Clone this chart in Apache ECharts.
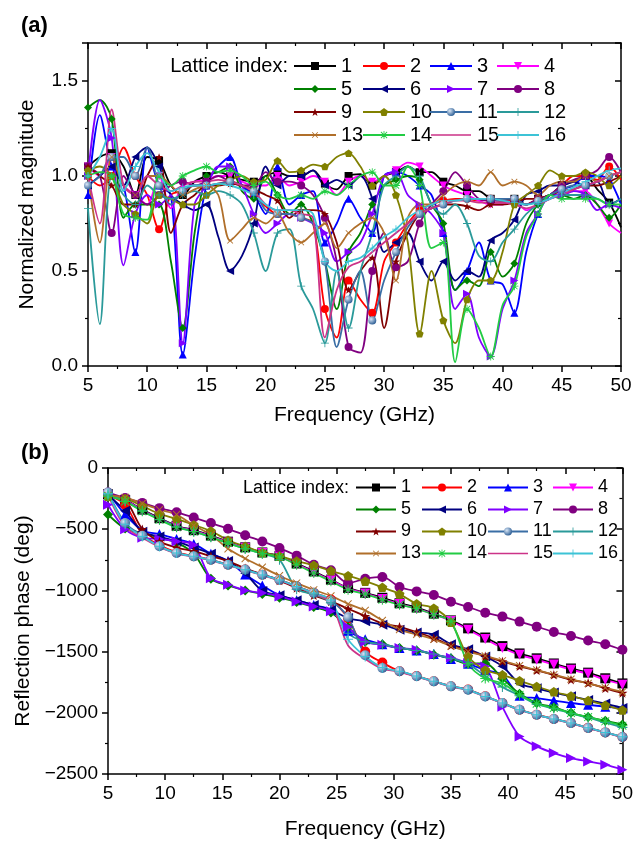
<!DOCTYPE html>
<html>
<head>
<meta charset="utf-8">
<script src="https://cdn.jsdelivr.net/npm/echarts@6/dist/echarts.min.js"></script>
<style>
html, body { margin: 0; padding: 0; background: #fff; }
#chart { width: 636px; height: 844px; }
</style>
</head>
<body>
<div id="chart"></div>
<script>
// frequency grids (GHz)
var freqA = [5,6,7,8,9,10,11,12,13,14,15,16,17,18,19,20,21,22,23,24,25,26,27,28,29,30,31,32,33,34,35,36,37,38,39,40,41,42,43,44,45,46,47,48,49,50];
var freqB = [5,6.5,8,9.5,11,12.5,14,15.5,17,18.5,20,21.5,23,24.5,26,27.5,29,30.5,32,33.5,35,36.5,38,39.5,41,42.5,44,45.5,47,48.5,50];

// (a) normalized magnitude, lattice index 1..16
var mag1 = [1.05,1.10,1.12,1.05,0.90,1.10,1.08,0.95,0.90,0.97,1.00,1.02,1.00,0.98,0.97,1.00,1.02,1.00,1.00,1.03,0.96,0.93,1.00,1.01,0.95,1.00,1.02,1.05,1.02,1.02,0.97,0.95,0.92,0.92,0.88,0.87,0.88,0.85,0.88,0.90,0.95,0.97,1.00,0.93,0.86,0.73];
var mag2 = [1.00,0.95,1.00,1.15,1.00,0.90,0.72,0.90,0.92,0.95,0.95,0.96,0.97,0.95,0.90,0.84,0.80,0.80,0.78,0.75,0.30,0.15,0.45,0.35,0.28,0.55,0.65,0.75,0.82,0.85,0.87,0.88,0.88,0.87,0.88,0.87,0.87,0.85,0.88,0.90,0.95,1.00,1.00,0.98,1.05,0.98];
var mag3 = [0.90,1.32,1.05,0.95,0.60,1.15,0.95,0.90,0.06,0.57,0.95,1.05,1.10,0.95,0.90,0.80,1.05,0.85,0.90,0.92,0.65,0.75,0.88,0.78,0.70,1.00,1.02,1.00,0.95,0.90,0.70,0.40,0.50,0.65,0.45,0.43,0.28,0.60,0.80,0.90,0.93,0.95,1.00,1.00,0.98,0.85];
var mag4 = [1.05,1.00,1.10,0.95,0.90,0.85,1.00,0.83,0.95,0.97,0.98,1.00,1.00,0.97,0.95,0.95,1.00,0.95,0.97,1.00,0.97,0.90,0.97,1.00,0.97,1.00,1.03,1.07,1.05,1.00,0.95,0.92,0.90,0.87,0.85,0.85,0.87,0.82,0.85,0.88,0.90,0.92,0.92,0.85,0.75,0.70];
var mag5 = [1.36,1.40,1.30,0.78,0.85,0.85,0.85,0.55,0.20,0.70,1.00,1.02,1.05,0.92,0.88,1.00,0.90,0.80,0.85,0.75,0.55,0.30,0.60,0.70,0.85,0.95,0.98,1.00,0.98,0.85,0.75,0.40,0.45,0.42,0.60,0.47,0.54,0.75,0.85,0.90,0.90,0.88,0.90,0.85,0.78,0.85];
var mag6 = [0.95,1.00,1.05,0.95,1.10,1.15,1.05,0.90,0.85,0.82,0.85,0.68,0.50,0.58,0.75,1.05,0.95,1.00,1.00,1.03,0.95,0.98,0.95,1.00,0.88,0.60,0.65,0.70,0.55,0.45,0.55,0.45,0.50,0.47,0.66,0.70,0.77,0.90,0.92,0.95,0.95,0.97,0.95,0.97,0.85,0.88];
var mag7 = [1.00,1.40,1.20,0.53,0.80,0.90,0.85,0.90,0.12,0.85,0.95,1.05,1.05,0.95,0.80,0.70,0.75,0.80,0.78,0.75,0.70,0.55,0.60,0.65,0.80,1.00,1.02,0.90,0.85,0.80,0.70,0.30,0.38,0.15,0.05,0.30,0.45,0.70,0.80,0.90,0.90,0.92,0.90,0.82,0.85,0.83];
var mag8 = [1.05,1.00,0.70,1.00,0.90,0.85,0.90,0.95,0.97,0.95,0.97,1.00,0.97,0.95,0.95,1.02,0.97,0.97,0.95,0.90,0.78,0.55,0.10,0.07,0.50,0.70,0.52,0.55,0.75,0.85,0.92,1.02,0.95,0.88,0.87,0.87,0.86,0.85,0.88,0.90,0.95,0.98,1.00,1.03,1.10,1.02];
var mag9 = [1.05,1.00,0.95,0.85,0.85,1.00,1.10,0.70,0.85,0.90,0.95,0.95,0.96,0.95,0.93,0.90,0.87,0.78,0.82,0.82,0.80,0.65,0.40,0.50,0.57,0.20,0.55,0.70,0.80,0.83,0.85,0.85,0.84,0.82,0.85,0.85,0.86,0.88,0.88,0.90,0.92,0.93,0.95,0.95,0.97,1.00];
var mag10 = [1.03,1.05,1.00,0.85,0.80,0.75,0.90,0.88,0.85,0.85,0.90,0.95,0.98,1.00,0.97,0.98,1.08,1.02,1.03,1.06,1.05,1.10,1.12,1.05,0.95,1.00,0.90,0.65,0.17,0.50,0.24,0.12,0.35,0.45,0.45,0.60,0.85,0.90,0.95,1.03,1.00,1.00,1.02,1.00,0.95,1.00];
var mag11 = [0.95,1.00,1.10,1.10,1.00,1.15,0.95,0.85,0.92,0.95,0.95,0.96,0.97,0.95,0.92,0.82,0.80,0.80,0.78,0.75,0.55,0.10,0.35,0.50,0.24,0.45,0.60,0.73,0.80,0.83,0.85,0.87,0.88,0.88,0.88,0.88,0.88,0.85,0.87,0.90,0.93,0.95,0.95,0.97,1.00,1.02];
var mag12 = [0.83,0.22,1.00,0.90,0.85,0.95,0.90,0.88,0.90,0.92,0.90,0.92,0.90,0.85,0.70,0.50,0.70,0.72,0.42,0.30,0.12,0.50,0.20,0.50,0.70,0.95,1.00,1.05,1.00,0.85,0.80,0.85,0.75,0.58,0.55,0.65,0.72,0.80,0.85,0.88,0.90,0.90,0.90,0.88,0.85,0.88];
var mag13 = [1.00,0.65,1.10,0.95,0.90,1.00,1.00,0.95,0.90,0.93,0.95,0.90,0.66,0.72,0.78,0.75,0.80,0.70,0.65,0.70,0.75,0.62,0.70,0.75,0.78,0.70,0.45,0.78,0.85,0.85,0.90,0.95,0.97,0.95,1.02,0.95,0.97,0.95,0.90,0.95,0.97,0.97,1.00,0.97,1.00,1.02];
var mag14 = [1.00,1.02,1.00,0.80,0.78,0.77,1.00,0.95,1.00,1.03,1.05,1.02,1.03,1.00,0.95,0.97,0.90,0.88,0.90,0.88,0.92,0.90,0.95,1.00,1.02,0.95,0.95,1.05,0.95,0.62,0.65,0.02,0.30,0.20,0.05,0.32,0.42,0.68,0.80,0.90,0.88,0.88,0.88,0.88,0.85,0.85];
var mag15 = [1.00,0.75,1.35,0.95,0.90,1.00,0.95,0.92,0.95,0.97,0.97,0.98,0.97,0.95,0.92,0.85,0.82,0.82,0.80,0.78,0.15,0.40,0.52,0.55,0.60,0.65,0.70,0.75,0.80,0.83,0.85,0.87,0.87,0.86,0.86,0.86,0.85,0.83,0.85,0.88,0.90,0.93,0.95,0.97,1.00,1.02];
var mag16 = [1.00,1.10,1.25,0.92,1.05,1.12,1.02,0.92,0.94,0.95,0.95,0.96,0.95,0.93,0.90,0.85,0.82,0.82,0.82,0.80,0.55,0.50,0.55,0.57,0.62,0.68,0.72,0.78,0.82,0.85,0.87,0.87,0.88,0.88,0.88,0.87,0.86,0.85,0.86,0.88,0.91,0.94,0.97,1.00,1.03,1.04];

// (b) reflection phase (deg), lattice index 1..16
var phase1 = [-215,-260,-340,-410,-472,-508,-552,-602,-648,-690,-718,-780,-845,-912,-980,-1020,-1060,-1105,-1140,-1190,-1245,-1310,-1385,-1455,-1515,-1555,-1597,-1638,-1672,-1718,-1760];
var phase2 = [-220,-300,-540,-630,-690,-720,-750,-790,-830,-872,-913,-967,-1020,-1075,-1230,-1500,-1590,-1660,-1700,-1742,-1783,-1810,-1865,-1920,-1975,-2015,-2050,-2084,-2123,-2160,-2197];
var phase3 = [-200,-380,-510,-540,-580,-620,-700,-760,-870,-960,-1040,-1080,-1120,-1160,-1330,-1400,-1440,-1470,-1490,-1520,-1560,-1600,-1650,-1690,-1860,-1880,-1900,-1920,-1935,-1950,-1965];
var phase4 = [-220,-265,-345,-415,-478,-512,-558,-608,-652,-695,-722,-785,-850,-918,-985,-1025,-1070,-1112,-1148,-1195,-1250,-1321,-1397,-1471,-1526,-1566,-1606,-1648,-1681,-1730,-1770];
var phase5 = [-380,-495,-530,-570,-610,-700,-905,-960,-1000,-1030,-1060,-1095,-1135,-1180,-1300,-1420,-1440,-1470,-1490,-1525,-1555,-1600,-1595,-1720,-1845,-1920,-1955,-2000,-2035,-2065,-2095];
var phase6 = [-220,-350,-520,-560,-600,-650,-700,-760,-860,-1005,-1040,-1080,-1120,-1160,-1226,-1253,-1280,-1321,-1343,-1362,-1440,-1480,-1540,-1620,-1760,-1800,-1835,-1865,-1895,-1925,-1960];
var phase7 = [-300,-500,-570,-580,-600,-630,-900,-953,-1000,-1021,-1049,-1090,-1131,-1171,-1300,-1420,-1445,-1471,-1484,-1525,-1550,-1593,-1621,-1950,-2193,-2274,-2329,-2370,-2397,-2424,-2465];
var phase8 = [-200,-245,-285,-328,-362,-405,-450,-497,-550,-600,-654,-716,-790,-836,-940,-905,-890,-972,-1008,-1037,-1092,-1135,-1182,-1214,-1255,-1296,-1340,-1372,-1410,-1440,-1485];
var phase9 = [-230,-260,-500,-600,-650,-680,-720,-760,-820,-870,-920,-980,-1040,-1090,-1150,-1210,-1270,-1297,-1340,-1390,-1450,-1490,-1539,-1580,-1620,-1653,-1690,-1730,-1757,-1800,-1838];
var phase10 = [-230,-250,-310,-375,-415,-465,-515,-590,-640,-690,-720,-760,-795,-840,-880,-925,-975,-1030,-1110,-1145,-1260,-1540,-1650,-1690,-1738,-1785,-1828,-1862,-1900,-1938,-1978];
var phase11 = [-200,-450,-553,-640,-695,-722,-750,-790,-830,-872,-913,-967,-1020,-1085,-1220,-1530,-1634,-1660,-1702,-1743,-1784,-1811,-1866,-1920,-1975,-2016,-2050,-2084,-2124,-2160,-2198];
var phase12 = [-220,-270,-350,-420,-480,-520,-565,-613,-659,-700,-750,-990,-1030,-1100,-1350,-1420,-1440,-1470,-1490,-1520,-1555,-1600,-1700,-1790,-1860,-1930,-1965,-2005,-2040,-2080,-2120];
var phase13 = [-225,-240,-290,-340,-380,-470,-545,-660,-740,-810,-880,-940,-995,-1045,-1110,-1163,-1245,-1320,-1360,-1400,-1455,-1500,-1535,-1575,-1615,-1650,-1688,-1725,-1760,-1795,-1830];
var phase14 = [-230,-273,-354,-422,-485,-518,-564,-613,-659,-700,-727,-790,-858,-926,-994,-1030,-1076,-1117,-1150,-1199,-1253,-1600,-1720,-1760,-1852,-1926,-1960,-2002,-2035,-2070,-2105];
var phase15 = [-220,-480,-570,-645,-700,-725,-755,-795,-835,-876,-918,-970,-1025,-1100,-1450,-1560,-1640,-1665,-1705,-1745,-1785,-1815,-1868,-1922,-1977,-2018,-2052,-2086,-2125,-2162,-2200];
var phase16 = [-210,-460,-560,-640,-695,-722,-752,-792,-832,-874,-915,-968,-1022,-1078,-1400,-1540,-1630,-1660,-1700,-1743,-1782,-1812,-1866,-1920,-1975,-2016,-2050,-2084,-2122,-2160,-2195];

var magAll = [mag1,mag2,mag3,mag4,mag5,mag6,mag7,mag8,mag9,mag10,mag11,mag12,mag13,mag14,mag15,mag16];
var phaseAll = [phase1,phase2,phase3,phase4,phase5,phase6,phase7,phase8,phase9,phase10,phase11,phase12,phase13,phase14,phase15,phase16];

var FONT = 'Liberation Sans, Arial, sans-serif';
var colors = ['#000000','#ff0000','#0000ff','#ff00ff','#008000','#000080','#8000ff','#800080',
              '#800000','#808000','#3a6ea5','#2a9a9a','#b06f2a','#22cc44','#cc3388','#3cc3d6'];
var STAR = 'path://M10,0L12.35,6.76L19.51,6.91L13.8,11.24L15.88,18.09L10,14L4.12,18.09L6.2,11.24L0.49,6.91L7.65,6.76Z';
var PENT = 'path://M10,0L19.51,6.91L15.88,18.09L4.12,18.09L0.49,6.91Z';
var PLUS = 'path://M9,0H11V9H20V11H11V20H9V11H0V9H9Z';
var AST = 'path://M9,0H11V9H20V11H11V20H9V11H0V9H9Z M2.9,1.5L18.5,17.1L17.1,18.5L1.5,2.9Z M17.1,1.5L18.5,2.9L2.9,18.5L1.5,17.1Z';
// plain line icon for the marker-less series in the legend
var LINE_ICON = 'path://M0,0H0.1V0.01H0Z M0,4.2H40V5.8H0Z M0,9.99H0.1V10H0Z';
var symbols = ['rect','circle','triangle','triangle','diamond','triangle','triangle','circle',
               STAR, PENT, 'circle', PLUS, PLUS, AST, 'none', PLUS];
var rotates = [0,0,0,180,0,90,-90,0,0,0,0,0,45,0,0,0];
var sphere = {type:'radial', x:0.35, y:0.35, r:0.7,
  colorStops:[{offset:0, color:'#d8e6f6'}, {offset:1, color:'#2c5d94'}]};

function makeSeries(i, panel, xs, vals, step, size) {
  return {
    name: String(i + 1),
    type: 'line',
    xAxisIndex: panel * 2,
    yAxisIndex: panel * 2,
    smooth: 0.3,
    symbol: symbols[i],
    symbolRotate: rotates[i],
    symbolSize: size,
    symbolKeepAspect: true,
    silent: true,
    lineStyle: {color: colors[i], width: 1.8},
    itemStyle: {color: i === 10 ? sphere : colors[i]},
    emphasis: {disabled: true},
    data: vals.map(function (v, k) {
      var it = {value: [xs[k], v]};
      if (k % step !== 0) it.symbol = 'none';
      return it;
    })
  };
}

var series = [];
for (var i = 0; i < 16; i++) series.push(makeSeries(i, 0, freqA, magAll[i], 2, 8));
for (var i = 0; i < 16; i++) series.push(makeSeries(i, 1, freqB, phaseAll[i], 1, 10));

function xAxes(grid, name, gap) {
  var base = {type:'value', gridIndex:grid, min:5, max:50, interval:5, splitLine:{show:false},
    axisLine:{onZero:false, lineStyle:{color:'#000', width:1.5}},
    minorTick:{show:true, splitNumber:2, length:3, lineStyle:{color:'#000', width:1.2}}};
  return [
    Object.assign({}, base, {position:'bottom',
      axisTick:{inside:false, length:6, lineStyle:{color:'#000', width:1.5}},
      axisLabel:{color:'#000', fontSize:19, fontFamily:FONT, margin:10},
      name:name, nameLocation:'middle', nameGap:gap,
      nameTextStyle:{color:'#000', fontSize:21, fontFamily:FONT}}),
    Object.assign({}, base, {position:'top',
      axisTick:{inside:true, length:6, lineStyle:{color:'#000', width:1.5}},
      axisLabel:{show:false}})
  ];
}

function yAxes(grid, min, max, interval, fmt, name, gap, fs) {
  var base = {type:'value', gridIndex:grid, min:min, max:max, interval:interval, splitLine:{show:false},
    axisLine:{show:true, onZero:false, lineStyle:{color:'#000', width:1.5}},
    minorTick:{show:true, splitNumber:2, length:3, lineStyle:{color:'#000', width:1.2}}};
  return [
    Object.assign({}, base, {position:'left',
      axisTick:{inside:false, length:6, lineStyle:{color:'#000', width:1.5}},
      axisLabel:{color:'#000', fontSize:fs, fontFamily:FONT, margin:10, formatter:fmt, showMaxLabel: grid === 0 ? false : true},
      name:name, nameLocation:'middle', nameGap:gap,
      nameTextStyle:{color:'#000', fontSize:21, fontFamily:FONT}}),
    Object.assign({}, base, {position:'right',
      axisTick:{inside:true, length:6, lineStyle:{color:'#000', width:1.5}},
      axisLabel:{show:false}})
  ];
}

var cols = [['1','5','9','13'], ['2','6','10','14'], ['3','7','11','15'], ['4','8','12','16']];
function legendData(c) {
  return c.map(function (n) { return n === '15' ? {name:n, icon:LINE_ICON} : n; });
}
var legA = [293, 362, 429, 496];
var legB = [355, 421, 487, 552];
var legends = [];
cols.forEach(function (c, k) {
  legends.push({data:legendData(c), orient:'vertical', left:legA[k], top:56, padding:0, itemGap:3,
    itemWidth:42, itemHeight:10, itemTextGap:5, selectedMode:false,
    textStyle:{color:'#000', fontSize:20, fontFamily:FONT, lineHeight:20}});
});
cols.forEach(function (c, k) {
  legends.push({data:legendData(c), orient:'vertical', left:legB[k], top:478, padding:0, itemGap:3,
    itemWidth:40, itemHeight:10, itemTextGap:5, selectedMode:false,
    textStyle:{color:'#000', fontSize:18, fontFamily:FONT, lineHeight:19}});
});

var chart = echarts.init(document.getElementById('chart'));
chart.setOption({
  backgroundColor: '#fff',
  animation: false,
  title: [
    {text:'(a)', left:16, top:10, textStyle:{fontSize:22, fontWeight:'bold', color:'#000', fontFamily:FONT}},
    {text:'(b)', left:16, top:437, textStyle:{fontSize:22, fontWeight:'bold', color:'#000', fontFamily:FONT}}
  ],
  graphic: [
    {type:'text', x:288, y:66, style:{text:'Lattice index:', fill:'#000', fontSize:20, fontFamily:FONT, align:'right', verticalAlign:'middle'}},
    {type:'text', x:349, y:488, style:{text:'Lattice index:', fill:'#000', fontSize:18, fontFamily:FONT, align:'right', verticalAlign:'middle'}}
  ],
  legend: legends,
  grid: [
    {left:88, right:15, top:43, height:323},
    {left:108, right:11, top:468, height:306}
  ],
  xAxis: xAxes(0, 'Frequency (GHz)', 39).concat(xAxes(1, 'Frequency (GHz)', 45)),
  yAxis: yAxes(0, 0, 1.7, 0.5, function (v) { return v.toFixed(1); }, 'Normalized magnitude', 50, 19)
    .concat(yAxes(1, -2500, 0, 500, function (v) { return v < 0 ? '\u2212' + Math.abs(v) : String(v); }, 'Reflection phase (deg)', 74, 19)),
  series: series
});
</script>
</body>
</html>
